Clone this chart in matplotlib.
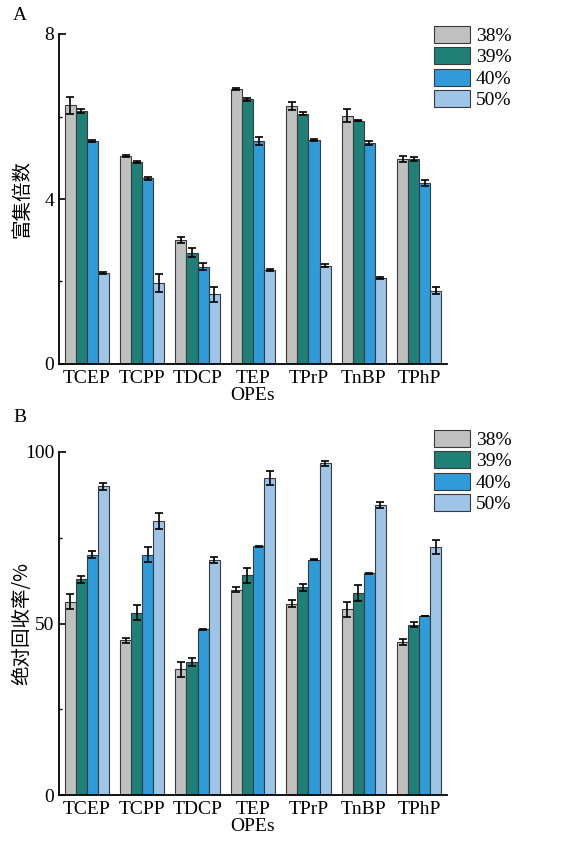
import matplotlib
matplotlib.use("Agg")
import matplotlib.pyplot as plt
import numpy as np
from matplotlib.ticker import MultipleLocator

categories = ["TCEP", "TCPP", "TDCP", "TEP", "TPrP", "TnBP", "TPhP"]
series_labels = ["38%", "39%", "40%", "50%"]

# Panel A: enrichment factor
enrich_38 = [6.27, 5.05, 3.01, 6.67, 6.25, 6.02, 4.97]
enrich_39 = [6.13, 4.90, 2.70, 6.42, 6.07, 5.90, 4.97]
enrich_40 = [5.40, 4.50, 2.36, 5.40, 5.43, 5.36, 4.38]
enrich_50 = [2.21, 1.97, 1.69, 2.28, 2.38, 2.09, 1.78]
enrich_err_38 = [0.20, 0.02, 0.07, 0.03, 0.10, 0.15, 0.07]
enrich_err_39 = [0.05, 0.03, 0.10, 0.04, 0.03, 0.02, 0.06]
enrich_err_40 = [0.02, 0.04, 0.08, 0.10, 0.02, 0.04, 0.07]
enrich_err_50 = [0.02, 0.22, 0.18, 0.02, 0.04, 0.03, 0.08]

# Panel B: absolute recovery (%)
recov_38 = [56.3, 45.1, 36.7, 59.9, 55.8, 54.1, 44.5]
recov_39 = [62.9, 53.1, 38.8, 64.1, 60.6, 58.9, 49.7]
recov_40 = [70.0, 70.0, 48.3, 72.5, 68.6, 64.6, 52.2]
recov_50 = [90.0, 79.9, 68.5, 92.5, 96.7, 84.6, 72.2]
recov_err_38 = [2.2, 0.8, 2.2, 0.6, 1.0, 2.2, 0.9]
recov_err_39 = [1.0, 2.2, 1.2, 2.2, 1.0, 2.2, 0.8]
recov_err_40 = [1.0, 2.2, 0.1, 0.1, 0.1, 0.1, 0.1]
recov_err_50 = [1.0, 2.3, 0.9, 2.0, 0.8, 0.8, 2.0]

colors = ["#c0c0c0", "#1f8078", "#2f9bd9", "#9ec4e8"]

plt.rcParams['font.family'] = ['Liberation Serif', 'Noto Sans CJK SC', 'DejaVu Sans']

fig = plt.figure(figsize=(5.66, 8.41), dpi=100)
W, H = 566, 841

def make_axes(left, top, right, bottom):
    return fig.add_axes([left / W, 1 - bottom / H, (right - left) / W, (bottom - top) / H])

axA = make_axes(59, 34, 447, 364)
axB = make_axes(59, 452, 447, 795)

x = np.arange(len(categories))
bw = 0.2

def draw(ax, vals, errs, ymax, major, minor, ylabel, legend_top):
    for i, (v, e) in enumerate(zip(vals, errs)):
        ax.bar(x + (i - 1.5) * bw, v, bw, color=colors[i], edgecolor="#3a3a3a",
               linewidth=0.8, label=series_labels[i], zorder=2)
        ax.errorbar(x + (i - 1.5) * bw, v, yerr=e, fmt="none", ecolor="black",
                    elinewidth=1.2, capsize=3, capthick=1.2, zorder=3)
    ax.set_xlim(-0.5, 6.5)
    ax.set_ylim(0, ymax)
    ax.yaxis.set_major_locator(MultipleLocator(major))
    ax.yaxis.set_minor_locator(MultipleLocator(minor))
    ax.set_xticks(x)
    ax.set_xticklabels(categories, fontsize=14)
    ax.tick_params(axis="y", which="major", direction="in", length=5, width=1.2, labelsize=14)
    ax.tick_params(axis="y", which="minor", direction="in", length=2.5, width=1.0)
    ax.tick_params(axis="x", length=0, pad=4)
    for s in ["top", "right"]:
        ax.spines[s].set_visible(False)
    for s in ["left", "bottom"]:
        ax.spines[s].set_linewidth(1.3)
    ax.set_xlabel("OPEs", fontsize=14, labelpad=0)
    ax.set_ylabel(ylabel, fontsize=14, family=['Noto Sans CJK SC', 'DejaVu Sans'])
    ax.yaxis.set_label_coords(-0.068, 0.5)
    ax.legend(loc="upper left", bbox_to_anchor=(434 / W, 1 - legend_top / H),
              bbox_transform=fig.transFigure, frameon=False, fontsize=14,
              handlelength=1.85, handleheight=0.95, labelspacing=0.12,
              handletextpad=0.3, borderpad=0, borderaxespad=0)

draw(axA, [enrich_38, enrich_39, enrich_40, enrich_50],
     [enrich_err_38, enrich_err_39, enrich_err_40, enrich_err_50],
     8, 4, 2, "富集倍数", 26)
draw(axB, [recov_38, recov_39, recov_40, recov_50],
     [recov_err_38, recov_err_39, recov_err_40, recov_err_50],
     100, 50, 25, "绝对回收率/%", 430)

fig.text(13 / W, 1 - 15 / H, "A", fontsize=14, va="center", ha="left")
fig.text(13 / W, 1 - 418 / H, "B", fontsize=14, va="center", ha="left")

fig.savefig("out.png", dpi=100)
